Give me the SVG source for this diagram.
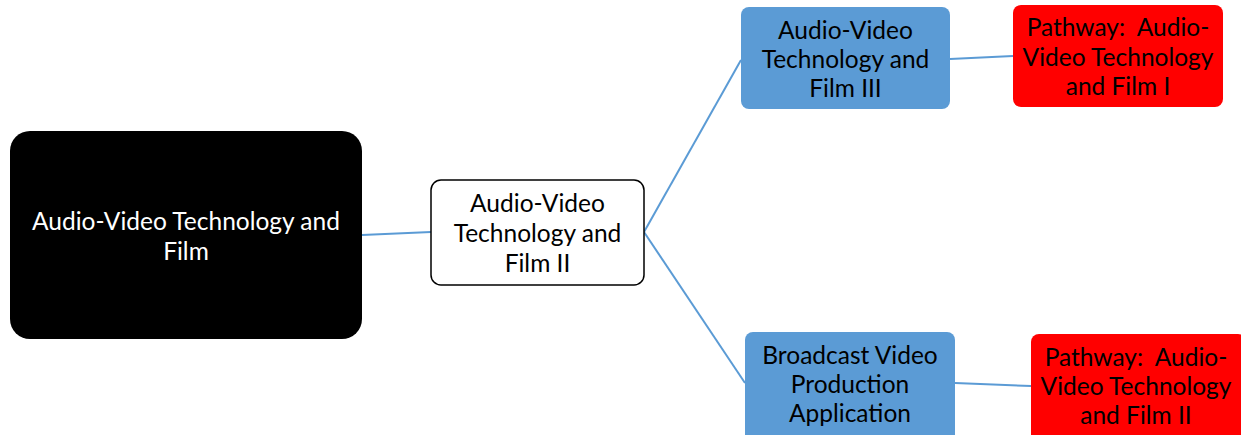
<svg xmlns="http://www.w3.org/2000/svg" width="1241" height="435" viewBox="0 0 1241 435">
  <style>
    .lbl { font-family: Lato, "Open Sans", "Liberation Sans", sans-serif; font-size: 24.5px; text-anchor: middle; dominant-baseline: central; white-space: pre; }
    .dark { fill: #000000; }
    .light { fill: #ffffff; }
    .blue { fill: #5b9bd5; }
    .red { fill: #ff0000; }
    .edge { stroke: #5b9bd5; stroke-width: 2; fill: none; }
  </style>
  <rect width="1241" height="435" fill="#ffffff"/>

  <g id="connectors">
    <line class="edge" x1="362" y1="235" x2="431" y2="232"/>
    <line class="edge" x1="644" y1="232" x2="741" y2="60"/>
    <line class="edge" x1="644" y1="232" x2="745" y2="383"/>
    <line class="edge" x1="950" y1="59" x2="1013" y2="56"/>
    <line class="edge" x1="955" y1="383" x2="1031" y2="386"/>
  </g>

  <g id="root">
    <rect x="10" y="131" width="352" height="208" rx="20" ry="20" fill="#000000"/>
    <text class="lbl light" x="186" y="220">Audio-Video Technology and</text>
    <text class="lbl light" x="186" y="250">Film</text>
  </g>

  <g id="film2">
    <rect x="431" y="180" width="213" height="105" rx="10" ry="10" fill="#ffffff" stroke="#000000" stroke-width="1.5"/>
    <text class="lbl dark" x="537.5" y="202">Audio-Video</text>
    <text class="lbl dark" x="537.5" y="232">Technology and</text>
    <text class="lbl dark" x="537.5" y="262">Film II</text>
  </g>

  <g id="film3">
    <rect class="blue" x="741" y="7" width="209" height="102" rx="8" ry="8"/>
    <text class="lbl dark" x="845.5" y="29">Audio-Video</text>
    <text class="lbl dark" x="845.5" y="58">Technology and</text>
    <text class="lbl dark" x="845.5" y="87">Film III</text>
  </g>

  <g id="pathway1">
    <rect class="red" x="1013" y="5" width="210" height="102" rx="8" ry="8"/>
    <text class="lbl dark" x="1118" y="26">Pathway:  Audio-</text>
    <text class="lbl dark" x="1118" y="56">Video Technology</text>
    <text class="lbl dark" x="1118" y="85">and Film I</text>
  </g>

  <g id="broadcast">
    <rect class="blue" x="745" y="332" width="210" height="110" rx="8" ry="8"/>
    <text class="lbl dark" x="850" y="354">Broadcast Video</text>
    <text class="lbl dark" x="850" y="383">Production</text>
    <text class="lbl dark" x="850" y="412">Application</text>
  </g>

  <g id="pathway2">
    <rect class="red" x="1031" y="334" width="215" height="110" rx="8" ry="8"/>
    <text class="lbl dark" x="1136" y="356">Pathway:  Audio-</text>
    <text class="lbl dark" x="1136" y="385">Video Technology</text>
    <text class="lbl dark" x="1136" y="414">and Film II</text>
  </g>
</svg>
